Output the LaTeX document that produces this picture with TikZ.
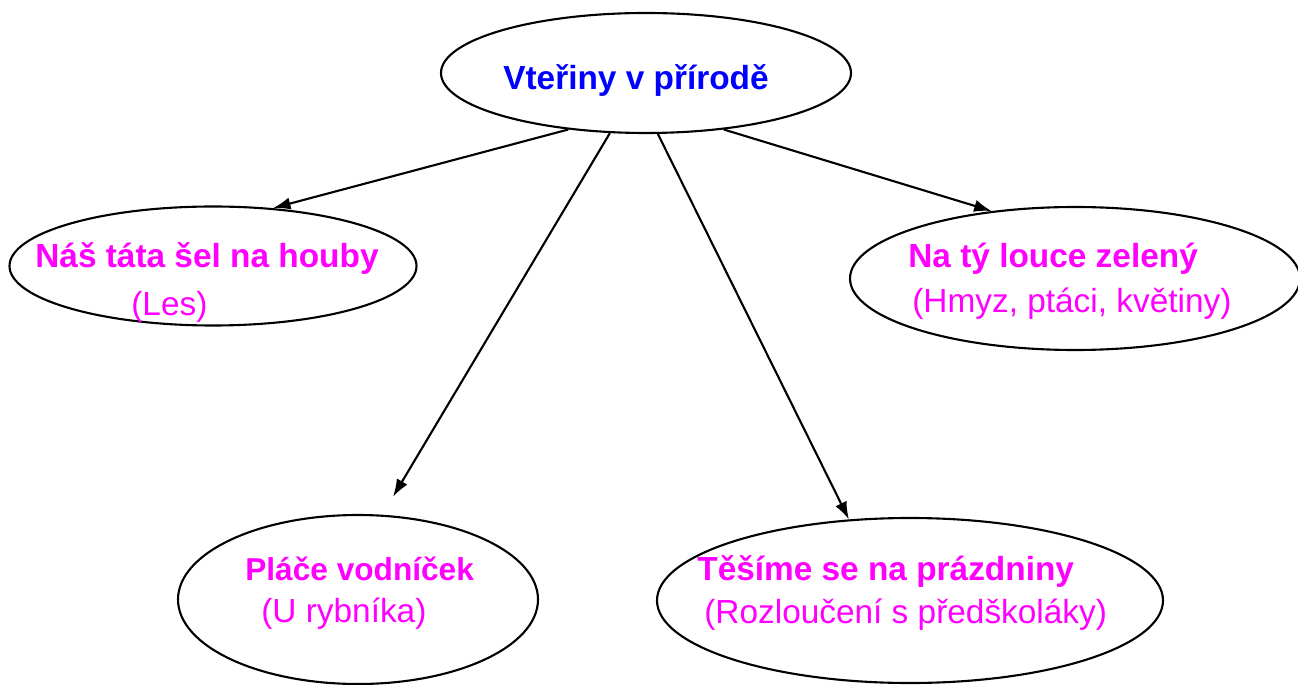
\documentclass[tikz,border=0pt]{standalone}
\usepackage{fontspec}
\setmainfont{Liberation Sans}
\usepackage{tikz}
\usetikzlibrary{arrows.meta,positioning,shapes.geometric}
\definecolor{nadpis}{HTML}{0000FF}
\definecolor{tema}{HTML}{FF00FF}
\tikzset{
  bublina/.style={draw,ellipse,line width=1.2pt,inner sep=0pt},
  radek/.style={anchor=base west,inner sep=0pt,tema,font=\fontsize{19}{23}\selectfont},
  sipka/.style={line width=1.2pt,-{Latex[length=10pt,width=7pt]}}
}

\begin{document}
\begin{tikzpicture}
  \useasboundingbox (0,0) rectangle (25.96,13.68);

  % Main topic
  \node[bublina,minimum width=8.2cm,minimum height=2.4cm] (vteriny) at (12.92,12.22) {};
  \node[radek,nadpis,font=\fontsize{19}{23}\selectfont\bfseries] (nazev) at (10.06,11.88) {Vteřiny v přírodě};

  % Les
  \node[bublina,minimum width=8.14cm,minimum height=2.38cm] (les) at (4.26,8.36) {};
  \node[radek,font=\fontsize{19}{23}\selectfont\bfseries] (lesA) at (0.70,8.32) {Náš táta šel na houby};
  \node[radek] (lesB) at (2.62,7.36) {(Les)};

  % Louka
  \node[bublina,minimum width=9.0cm,minimum height=2.86cm] (louka) at (21.5,8.11) {};
  \node[radek,font=\fontsize{19}{23}\selectfont\bfseries] (loukaA) at (18.16,8.32) {Na tý louce zelený};
  \node[radek] (loukaB) at (18.24,7.42) {(Hmyz, ptáci, květiny)};

  % Rybnik
  \node[bublina,minimum width=7.2cm,minimum height=3.38cm] (rybnik) at (7.16,1.69) {};
  \node[radek,font=\fontsize{18}{23}\selectfont\bfseries] (rybnikA) at (4.90,2.08) {Pláče vodníček};
  \node[radek] (rybnikB) at (5.22,1.24) {(U rybníka)};

  % Prazdniny
  \node[bublina,minimum width=10.12cm,minimum height=3.3cm] (prazdniny) at (18.2,1.67) {};
  \node[radek,font=\fontsize{19}{23}\selectfont\bfseries] (prazdninyA) at (13.94,2.08) {Těšíme se na prázdniny};
  \node[radek] (prazdninyB) at (14.08,1.22) {(Rozloučení s předškoláky)};

  % Arrows
  \draw[sipka] (vteriny.216) -- (les.44);
  \draw[sipka,shorten >=0.42cm] (vteriny.239) -- (rybnik.74);
  \draw[sipka] (vteriny.281) -- (prazdniny.127);
  \draw[sipka] (vteriny.324) -- (louka.141);
\end{tikzpicture}
\end{document}
